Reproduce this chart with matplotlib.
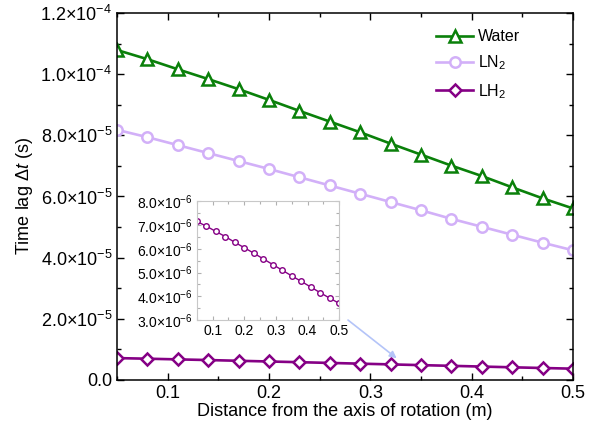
import matplotlib
matplotlib.use("Agg")
import matplotlib.pyplot as plt
from matplotlib.ticker import MultipleLocator, FuncFormatter

plt.rcParams["font.family"] = ["Liberation Sans", "DejaVu Sans"]
plt.rcParams["mathtext.fontset"] = "custom"
plt.rcParams["mathtext.rm"] = "Liberation Sans"
plt.rcParams["mathtext.it"] = "Liberation Sans:italic"
plt.rcParams["mathtext.bf"] = "Liberation Sans:bold"

# distance from the axis of rotation (m)
distance = [0.05, 0.08, 0.11, 0.14, 0.17, 0.20, 0.23, 0.26,
            0.29, 0.32, 0.35, 0.38, 0.41, 0.44, 0.47, 0.50]

# time lag (s)
water = [1.079e-4, 1.049e-4, 1.016e-4, 0.984e-4, 0.951e-4, 0.916e-4, 0.880e-4, 0.845e-4,
         0.810e-4, 0.773e-4, 0.737e-4, 0.701e-4, 0.667e-4, 0.630e-4, 0.594e-4, 0.561e-4]
ln2 = [0.818e-4, 0.794e-4, 0.768e-4, 0.742e-4, 0.716e-4, 0.690e-4, 0.663e-4, 0.636e-4,
       0.609e-4, 0.582e-4, 0.555e-4, 0.527e-4, 0.501e-4, 0.475e-4, 0.449e-4, 0.424e-4]
lh2 = [7.16e-6, 6.96e-6, 6.74e-6, 6.52e-6, 6.28e-6, 6.05e-6, 5.82e-6, 5.58e-6,
       5.34e-6, 5.10e-6, 4.86e-6, 4.63e-6, 4.39e-6, 4.15e-6, 3.92e-6, 3.70e-6]

C_WATER = "#0a800a"
C_LN2 = "#d2b0f8"
C_LH2 = "#850085"


def sci_fmt(exp):
    def f(v, pos):
        if abs(v) < 1e-20:
            return "0.0"
        return r"$%.1f{\times}10^{%d}$" % (v / 10 ** exp, exp)
    return FuncFormatter(f)


def main_y(v, pos):
    if abs(v) < 1e-20:
        return "0.0"
    exp = -4 if v >= 1e-4 - 1e-12 else -5
    return r"$%.1f{\times}10^{%d}$" % (v / 10 ** exp, exp)


fig = plt.figure(figsize=(5.89, 4.25), dpi=100)
ax = fig.add_axes([0.1986, 0.1059, 0.7742, 0.8635])

ax.plot(distance, water, color=C_WATER, lw=1.9, marker="^", ms=8,
        mfc="white", mec=C_WATER, mew=1.8, label="Water")
ax.plot(distance, ln2, color=C_LN2, lw=1.9, marker="o", ms=7.5,
        mfc="white", mec=C_LN2, mew=1.8, label=r"LN$_2$")
ax.plot(distance, lh2, color=C_LH2, lw=1.9, marker="D", ms=6.5,
        mfc="white", mec=C_LH2, mew=1.8, label=r"LH$_2$")

ax.set_xlim(0.05, 0.5)
ax.set_ylim(0, 1.2e-4)
ax.xaxis.set_major_locator(MultipleLocator(0.1))
ax.xaxis.set_minor_locator(MultipleLocator(0.05))
ax.yaxis.set_major_locator(MultipleLocator(2e-5))
ax.yaxis.set_minor_locator(MultipleLocator(1e-5))
ax.xaxis.set_major_formatter(FuncFormatter(lambda v, p: "%.1f" % v))
ax.yaxis.set_major_formatter(FuncFormatter(main_y))
ax.tick_params(which="both", direction="in", top=True, right=True,
               labelsize=13, width=1.0)
ax.tick_params(which="major", length=5)
ax.tick_params(which="minor", length=3)
for s in ax.spines.values():
    s.set_linewidth(1.1)

ax.set_xlabel("Distance from the axis of rotation (m)", fontsize=13, labelpad=1)
ax.set_ylabel(r"Time lag $\Delta t$ (s)", fontsize=13, labelpad=4)

ax.legend(loc="upper right", frameon=False, fontsize=11.5,
          bbox_to_anchor=(0.915, 0.995), handlelength=2.3, labelspacing=0.6,
          handletextpad=0.3)

ax.annotate("", xy=(0.326, 0.71e-5), xytext=(0.278, 1.96e-5),
            arrowprops=dict(arrowstyle="-|>", color="#b4c4f8", lw=1.2,
                            mutation_scale=10, shrinkA=0, shrinkB=0))

# zoomed view of the LH2 curve
ins = fig.add_axes([0.334, 0.2471, 0.242, 0.2788])
ins.plot(distance, lh2, color=C_LH2, lw=1.0, marker="o", ms=4,
         mfc="white", mec=C_LH2, mew=1.0)
ins.set_xlim(0.05, 0.5)
ins.set_ylim(3e-6, 8e-6)
ins.xaxis.set_major_locator(MultipleLocator(0.1))
ins.xaxis.set_minor_locator(MultipleLocator(0.05))
ins.yaxis.set_major_locator(MultipleLocator(1e-6))
ins.yaxis.set_minor_locator(MultipleLocator(5e-7))
ins.xaxis.set_major_formatter(FuncFormatter(lambda v, p: "%.1f" % v))
ins.yaxis.set_major_formatter(sci_fmt(-6))
ins.tick_params(which="both", direction="in", top=True, right=True,
                labelsize=10, color="#b0b0b0", width=0.8, pad=3)
ins.tick_params(which="major", length=3)
ins.tick_params(which="minor", length=2)
for s in ins.spines.values():
    s.set_color("#c8c8c8")
    s.set_linewidth(0.8)

fig.savefig("out.png", dpi=100)
